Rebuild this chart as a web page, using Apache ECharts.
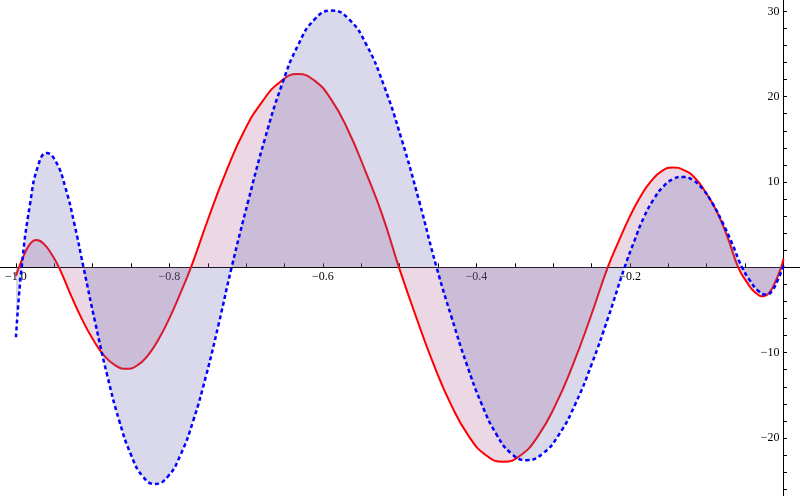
<!DOCTYPE html>
<html>
<head>
<meta charset="utf-8">
<script src="https://cdn.jsdelivr.net/npm/echarts@6/dist/echarts.min.js"></script>
<style>
  html, body { margin: 0; padding: 0; background: #fff; }
  #chart { width: 800px; height: 496px; }
</style>
</head>
<body>
<div id="chart"></div>
<script>
// solid red curve: sample positions and values
const redX = [
  -1.0, -0.996, -0.9887, -0.9813, -0.974, -0.964, -0.954, -0.944,
  -0.9293, -0.9147, -0.900, -0.8853, -0.8707, -0.856,
  -0.842, -0.828, -0.814, -0.800, -0.786, -0.772,
  -0.7488, -0.7257, -0.7025, -0.6793, -0.6562, -0.633,
  -0.611, -0.589, -0.567, -0.545, -0.523, -0.501,
  -0.4783, -0.4557, -0.433, -0.4103, -0.3877, -0.365,
  -0.3423, -0.3197, -0.297, -0.2743, -0.2517, -0.229,
  -0.2148, -0.2007, -0.1865, -0.1723, -0.1582, -0.144,
  -0.1298, -0.1157, -0.1015, -0.0873, -0.0732, -0.059,
  -0.048, -0.037, -0.026, -0.0183, -0.0107, -0.003, 0
];
const redY = [
  -1.0, 0, 1.6, 2.77, 3.2, 2.77, 1.6, 0,
  -3.08, -5.95, -8.41, -10.31, -11.5, -11.9,
  -11.5, -10.31, -8.41, -5.95, -3.08, 0,
  5.87, 11.33, 16.0, 19.4, 21.7, 22.65,
  21.88, 19.62, 16.01, 11.33, 6.2, 0,
  -5.91, -11.4, -16.12, -19.75, -22.02, -22.8,
  -22.02, -19.75, -16.12, -11.4, -5.91, 0,
  3.03, 5.85, 8.27, 10.13, 11.3, 11.7,
  11.4, 10.5, 8.8, 6.6, 3.6, 0,
  -1.7, -2.94, -3.4, -2.94, -1.7, 0, 1.0
];

// dashed blue curve
const blueX = [
  -1.0, -0.9926, -0.9817, -0.9709, -0.960, -0.948, -0.936, -0.924, -0.912,
  -0.8965, -0.881, -0.8655, -0.850, -0.8345, -0.819,
  -0.8023, -0.7857, -0.769, -0.7523, -0.7357, -0.719,
  -0.6973, -0.6757, -0.654, -0.6323, -0.6107, -0.589,
  -0.5662, -0.5433, -0.5205, -0.4977, -0.4748, -0.452,
  -0.4325, -0.413, -0.3935, -0.374, -0.3545, -0.335,
  -0.3137, -0.2923, -0.271, -0.2497, -0.2283, -0.207,
  -0.1943, -0.1817, -0.169, -0.1563, -0.1437, -0.131,
  -0.1182, -0.1053, -0.0925, -0.0797, -0.0668, -0.054,
  -0.0433, -0.0327, -0.022, -0.015, -0.008, 0
];
const blueY = [
  -8.2, 0, 7.4, 12.0, 13.4, 12.38, 9.48, 5.13, 0,
  -6.58, -12.7, -17.96, -22.0, -24.54, -25.4,
  -24.54, -22.0, -17.96, -12.7, -6.58, 0,
  7.8, 15.05, 21.28, 26.07, 29.08, 30.1,
  29.08, 26.07, 21.28, 15.05, 7.8, 0,
  -5.85, -11.3, -15.98, -19.57, -21.83, -22.6,
  -21.83, -19.57, -15.98, -11.3, -5.85, 0,
  3.1, 5.9, 8.0, 9.5, 10.35, 10.6,
  10.24, 9.18, 7.49, 5.3, 2.75, 0,
  -1.6, -2.77, -3.2, -2.77, -1.6, 0.2
];

// ticks and labels
const xLabelValues = [-1, -0.8, -0.6, -0.4, -0.2];
const xTickValues = [
  -1, -0.95, -0.9, -0.85, -0.8, -0.75, -0.7, -0.65, -0.6, -0.55,
  -0.5, -0.45, -0.4, -0.35, -0.3, -0.25, -0.2, -0.15, -0.1, -0.05
];
const yLabelValues = [-20, -10, 10, 20, 30];
const yTickValues = [
  -26, -24, -22, -20, -18, -16, -14, -12, -10, -8, -6, -4, -2,
  2, 4, 6, 8, 10, 12, 14, 16, 18, 20, 22, 24, 26, 28, 30
];

const X_MIN = -1.0208, X_MAX = 0.0215;
const Y_MIN = -26.8, Y_MAX = 31.33;
const W = 800, H = 496;

const pairs = (xs, ys) => xs.map((x, i) => [x, ys[i]]);
const minus = (s) => String(s).replace('-', '\u2212');

const chart = echarts.init(document.getElementById('chart'), null, { renderer: 'canvas' });

const labelFont = {
  fontFamily: '"Liberation Serif", "DejaVu Serif", serif',
  fontSize: 12,
  color: '#000',
};

// put the axes through the origin by shifting them in from the grid edges
const xAxisOffset = -(H * (0 - Y_MIN) / (Y_MAX - Y_MIN));
const yAxisOffset = -(W * (0 - X_MIN) / (X_MAX - X_MIN));

chart.setOption({
  animation: false,
  backgroundColor: '#fff',
  grid: { left: 0, right: 0, top: 0, bottom: 0, containLabel: false, outerBoundsMode: 'none' },
  xAxis: {
    type: 'value',
    min: X_MIN,
    max: X_MAX,
    position: 'bottom',
    offset: xAxisOffset,
    axisLine: { onZero: false, lineStyle: { color: '#000', width: 1 } },
    axisTick: { inside: true, length: 4, customValues: xTickValues, lineStyle: { color: '#000' } },
    axisLabel: {
      ...labelFont,
      margin: 4,
      customValues: xLabelValues,
      formatter: (v) => minus(v.toFixed(1)),
    },
    splitLine: { show: false },
  },
  yAxis: {
    type: 'value',
    min: Y_MIN,
    max: Y_MAX,
    position: 'left',
    offset: yAxisOffset,
    axisLine: { onZero: false, lineStyle: { color: '#000', width: 1 } },
    axisTick: { inside: true, length: 3.5, customValues: yTickValues, lineStyle: { color: '#000' } },
    axisLabel: {
      ...labelFont,
      margin: 4,
      customValues: yLabelValues,
      formatter: (v) => minus(v),
    },
    splitLine: { show: false },
  },
  series: [
    {
      name: 'red',
      type: 'line',
      data: pairs(redX, redY),
      smooth: 0.5,
      symbol: 'none',
      lineStyle: { color: '#ff0000', width: 2 },
      areaStyle: { color: 'rgba(179, 99, 147, 0.25)', opacity: 1, origin: 0 },
      z: 2,
    },
    {
      name: 'blue',
      type: 'line',
      data: pairs(blueX, blueY),
      smooth: 0.5,
      symbol: 'none',
      lineStyle: { color: '#0000ff', width: 2.5, type: [4, 3] },
      areaStyle: { color: 'rgba(103, 103, 175, 0.25)', opacity: 1, origin: 0 },
      z: 3,
    },
  ],
});
</script>
</body>
</html>
